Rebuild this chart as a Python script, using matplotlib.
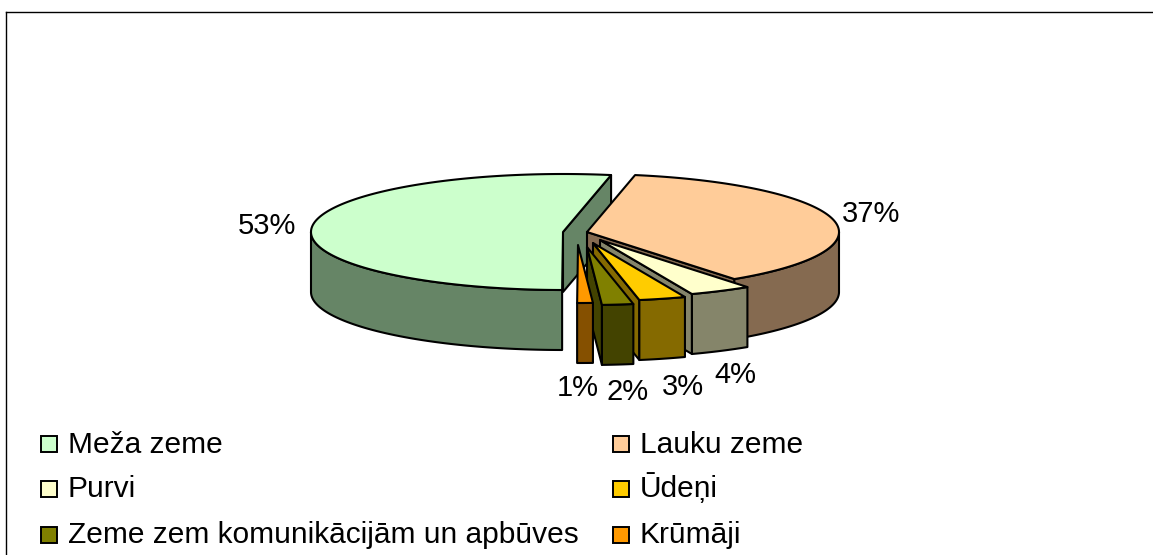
import numpy as np
import matplotlib
matplotlib.use("Agg")
import matplotlib.pyplot as plt
from matplotlib.patches import Polygon, Rectangle

# --- data ---
categories = ["Lauku zeme", "Purvi", "Ūdeņi", "Zeme zem komunikācijām un apbūves", "Krūmāji", "Meža zeme"]
shares = [37, 4, 3, 2, 1, 53]
colors = ["#FFCC99", "#FFFFCC", "#FFCC00", "#808000", "#FF9900", "#CCFFCC"]
wall_colors = ["#856A50", "#85856A", "#856A00", "#434300", "#855000", "#668566"]

# --- layout (pixels) ---
W, H = 1153, 555
RX, RY, DEPTH = 252, 58, 60
START = 11.0
APEX_X = [587, 600, 593, 587, 578, 563]
APEX_Y = [232, 240, 243, 247, 245, 232]
LABEL_X = [871, 735, 683, 628, 578, 267]
LABEL_Y = [214, 375, 387, 392, 388, 226]
DRAW_ORDER = [5, 0, 1, 2, 3, 4]
LEGEND_ORDER = [5, 0, 1, 2, 3, 4]      # read row by row, two columns
LEGEND_X = [41, 613]
LEGEND_BASE = [453, 497, 543]
LEGEND_MID = [444, 488.5, 535]
FS = 21
LEGEND_FS = 21.5
LW = 1.5

plt.rcParams["font.family"] = ["Liberation Sans", "DejaVu Sans"]
fig = plt.figure(figsize=(W / 100, H / 100), dpi=100)
ax = fig.add_axes([6 / W, 0, (W - 6) / W, (H - 12) / H])
ax.set_xlim(6, W)
ax.set_ylim(H, 12)
ax.set_xticks([])
ax.set_yticks([])
for s in ("right", "bottom"):
    ax.spines[s].set_visible(False)
for s in ("left", "top"):
    ax.spines[s].set_linewidth(1.0)


def rim(cx, cy, deg):
    t = np.radians(deg)
    return cx + RX * np.sin(t), cy - RY * np.cos(t)


def poly(xs, ys, fc):
    ax.add_patch(Polygon(np.column_stack([xs, ys]), closed=True, facecolor=fc,
                         edgecolor="black", linewidth=LW, joinstyle="round"))


edges = START + np.cumsum([0] + shares) * 3.6
for i in DRAW_ORDER:
    a, b = edges[i], edges[i + 1]
    cx, cy = APEX_X[i], APEX_Y[i]
    # visible cut face at the end of the sector
    if np.sin(np.radians(b)) > 0:
        ex, ey = rim(cx, cy, b)
        poly([cx, ex, ex, cx], [cy, ey, ey + DEPTH, cy + DEPTH], wall_colors[i])
    # outer wall, front half only
    lo, hi = max(a, 90), min(b, 270)
    if hi > lo:
        t = np.linspace(lo, hi, max(3, int(hi - lo) * 2))
        x, y = rim(cx, cy, t)
        poly(np.r_[x, x[::-1]], np.r_[y, y[::-1] + DEPTH], wall_colors[i])
    # top face
    t = np.linspace(a, b, max(3, int(b - a) * 2))
    x, y = rim(cx, cy, t)
    poly(np.r_[cx, x], np.r_[cy, y], colors[i])
    ax.text(LABEL_X[i], LABEL_Y[i], f"{shares[i]}%", fontsize=FS, ha="center", va="center", color="black")

for k, i in enumerate(LEGEND_ORDER):
    row, col = k // 2, k % 2
    x0 = LEGEND_X[col]
    ax.add_patch(Rectangle((x0, LEGEND_MID[row] - 8), 16, 16, facecolor=colors[i],
                           edgecolor="black", linewidth=1.4))
    ax.text(x0 + 27, LEGEND_BASE[row], categories[i], fontsize=LEGEND_FS,
            ha="left", va="baseline", color="black")

fig.savefig("out.png", dpi=100)
